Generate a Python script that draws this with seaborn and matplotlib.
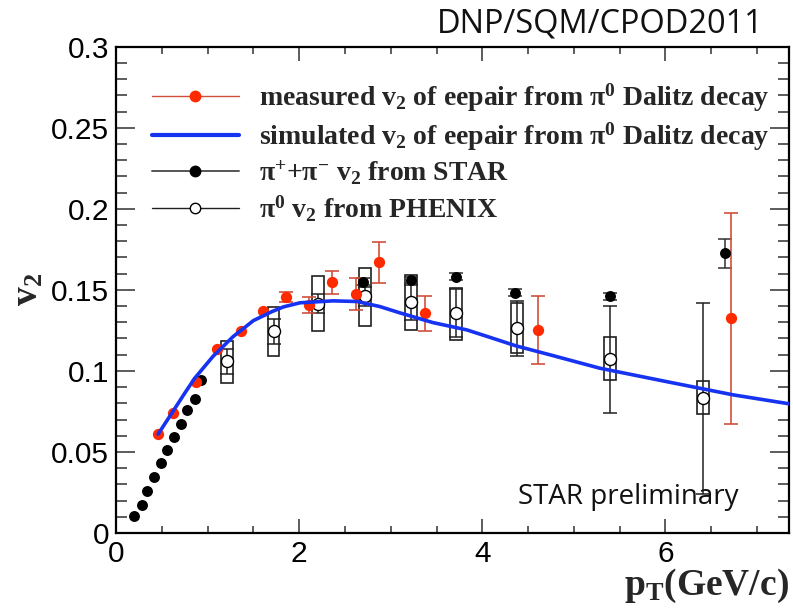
import matplotlib
matplotlib.use("Agg")
import matplotlib.pyplot as plt
from matplotlib.lines import Line2D
from matplotlib.patches import Rectangle
from matplotlib.ticker import MultipleLocator, FormatStrFormatter
import numpy as np
import pandas as pd
import seaborn as sns

# measured v2 of e+e- pairs from pi0 Dalitz decay
meas_pt = [0.46, 0.62, 0.87, 1.10, 1.36, 1.61, 1.86, 2.11, 2.36, 2.62, 2.87, 3.37, 4.61, 6.72]
meas_v2 = [0.0609, 0.0739, 0.0930, 0.1136, 0.1247, 0.1372, 0.1455, 0.1407, 0.1547, 0.1475,
           0.1670, 0.1356, 0.1253, 0.1325]
meas_err = [0.0, 0.0, 0.0, 0.0, 0.0, 0.0, 0.003, 0.005, 0.007, 0.0098,
            0.0127, 0.0107, 0.021, 0.065]

# simulated v2 of e+e- pairs from pi0 Dalitz decay
sim_pt = [0.46, 0.61, 0.75, 0.86, 1.06, 1.28, 1.50, 1.70, 1.83, 2.01, 2.37, 2.63, 2.88, 3.10,
          3.46, 3.83, 4.05, 4.37, 4.74, 5.28, 6.01, 6.74, 7.35]
sim_v2 = [0.0610, 0.0740, 0.0862, 0.0955, 0.1090, 0.1212, 0.1310, 0.1365, 0.1395, 0.1420,
          0.1432, 0.1428, 0.1397, 0.1358, 0.1298, 0.1253, 0.1213, 0.1154, 0.1099, 0.1017,
          0.0934, 0.0852, 0.0797]

# charged pion v2 from STAR
star_pt = [0.20, 0.28, 0.34, 0.41, 0.49, 0.56, 0.63, 0.71, 0.78, 0.86, 0.93,
           2.70, 3.22, 3.71, 4.36, 5.39, 6.65]
star_v2 = [0.0107, 0.0173, 0.0259, 0.0348, 0.0430, 0.0512, 0.0595, 0.0673, 0.0757, 0.0827,
           0.0942, 0.1551, 0.1562, 0.1582, 0.1483, 0.1459, 0.1726]
star_err = [0.0] * 11 + [0.002, 0.002, 0.002, 0.002, 0.002, 0.009]

# neutral pion v2 from PHENIX (stat. errors and systematic bands)
phenix_pt = [1.21, 1.72, 2.21, 2.72, 3.22, 3.71, 4.38, 5.39, 6.41]
phenix_v2 = [0.1058, 0.1243, 0.1414, 0.1459, 0.1422, 0.1356, 0.1264, 0.1072, 0.0831]
phenix_err = [0.008, 0.008, 0.006, 0.006, 0.011, 0.015, 0.017, 0.033, 0.059]
phenix_sys_lo = [0.0924, 0.1093, 0.1243, 0.1278, 0.1253, 0.1191, 0.1113, 0.0944, 0.0733]
phenix_sys_hi = [0.1187, 0.1397, 0.1586, 0.1634, 0.1593, 0.1510, 0.1418, 0.1206, 0.0936]

RED = "#ff2a00"
RED_BAR = "#d0503c"
BLUE = "#1733f2"

sns.set_theme(style="ticks")
plt.rcParams["font.family"] = ["Liberation Sans", "DejaVu Sans"]
plt.rcParams["mathtext.fontset"] = "custom"
plt.rcParams["mathtext.rm"] = "Liberation Serif:bold"
plt.rcParams["mathtext.it"] = "Liberation Serif:bold"
plt.rcParams["mathtext.bf"] = "Liberation Serif:bold"

fig = plt.figure(figsize=(7.93, 6.11), dpi=100)
ax = fig.add_axes([0.1463, 0.1277, 0.8487, 0.7959])

# PHENIX systematic boxes
box_hw = 0.065
for x, lo, hi in zip(phenix_pt, phenix_sys_lo, phenix_sys_hi):
    ax.add_patch(Rectangle((x - box_hw, lo), 2 * box_hw, hi - lo, fill=False,
                           edgecolor="#202020", linewidth=1.2, zorder=2))


def draw_errors(xs, ys, errs, color, lw):
    """Vertical error bars with caps, skipping points whose error is negligible."""
    xs, ys, errs = map(np.asarray, (xs, ys, errs))
    keep = errs > 0
    ax.errorbar(xs[keep], ys[keep], yerr=errs[keep], fmt="none", ecolor=color,
                elinewidth=lw, capsize=5, capthick=lw, zorder=3)


draw_errors(phenix_pt, phenix_v2, phenix_err, "#202020", 1.1)
draw_errors(star_pt, star_v2, star_err, "#303030", 1.1)
draw_errors(meas_pt, meas_v2, meas_err, RED_BAR, 1.2)

df_phenix = pd.DataFrame({"pt": phenix_pt, "v2": phenix_v2})
df_star = pd.DataFrame({"pt": star_pt, "v2": star_v2})
df_meas = pd.DataFrame({"pt": meas_pt, "v2": meas_v2})
df_sim = pd.DataFrame({"pt": sim_pt, "v2": sim_v2})

sns.scatterplot(data=df_phenix, x="pt", y="v2", ax=ax, marker="o", s=75,
                facecolor="white", edgecolor="black", linewidth=1.0, zorder=4)
sns.scatterplot(data=df_star, x="pt", y="v2", ax=ax, marker="o", s=62,
                color="black", edgecolor="black", linewidth=0, zorder=4)
sns.scatterplot(data=df_meas, x="pt", y="v2", ax=ax, marker="o", s=66,
                color=RED, edgecolor=RED, linewidth=0, zorder=5)
sns.lineplot(data=df_sim, x="pt", y="v2", ax=ax, sort=False, color=BLUE,
             linewidth=2.6, zorder=6)

ax.set_xlim(0, 7.35)
ax.set_ylim(0, 0.3)

ax.xaxis.set_major_locator(MultipleLocator(2))
ax.xaxis.set_minor_locator(MultipleLocator(0.5))
ax.yaxis.set_major_locator(MultipleLocator(0.05))
ax.yaxis.set_minor_locator(MultipleLocator(0.01))
ax.xaxis.set_major_formatter(FormatStrFormatter("%g"))
ax.yaxis.set_major_formatter(FormatStrFormatter("%g"))

ax.tick_params(axis="both", which="both", direction="in", top=True, right=True,
               colors="#303030", labelcolor="black", width=1.1, labelsize=21.5)
ax.tick_params(axis="x", which="major", length=10, pad=5)
ax.tick_params(axis="x", which="minor", length=5)
ax.tick_params(axis="y", which="major", length=14, pad=5)
ax.tick_params(axis="y", which="minor", length=8)
for sp in ax.spines.values():
    sp.set_linewidth(1.6)
    sp.set_color("black")

ax.set_xlabel(r"$\mathbf{p_T}$(GeV/c)", fontsize=27, fontfamily="Liberation Serif",
              fontweight="bold", ha="right")
ax.xaxis.set_label_coords(1.0, -0.07)
ax.set_ylabel(r"$\mathbf{v_2}$", fontsize=27)
ax.yaxis.set_label_coords(-0.105, 0.5)

handles = [
    Line2D([], [], color=RED_BAR, lw=1.0, marker="o", markersize=7.5,
           markerfacecolor=RED, markeredgecolor=RED),
    Line2D([], [], color=BLUE, lw=3.0),
    Line2D([], [], color="#555555", lw=1.4, marker="o", markersize=7.5,
           markerfacecolor="black", markeredgecolor="black"),
    Line2D([], [], color="#202020", lw=1.0, marker="o", markersize=7.5,
           markerfacecolor="white", markeredgecolor="black"),
]
labels = [
    r"measured $\mathbf{v_2}$ of eepair from π$^{\mathbf{0}}$ Dalitz decay",
    r"simulated $\mathbf{v_2}$ of eepair from π$^{\mathbf{0}}$ Dalitz decay",
    r"π$^{\mathbf{+}}$+π$^{\mathbf{-}}$ $\mathbf{v_2}$ from STAR",
    r"π$^{\mathbf{0}}$ $\mathbf{v_2}$ from PHENIX",
]
leg = ax.legend(handles, labels, loc="upper left", bbox_to_anchor=(0.053, 0.928),
                frameon=False, handlelength=3.15, handletextpad=0.7, labelspacing=0.22,
                borderpad=0, borderaxespad=0,
                prop={"family": "Liberation Serif", "weight": "bold", "size": 20})

ax.text(0.597, 0.06, "STAR preliminary", transform=ax.transAxes, fontsize=20,
        fontfamily="Open Sans", color="#111111")
fig.text(0.551, 0.946, "DNP/SQM/CPOD2011", fontsize=23.4, fontfamily="Open Sans",
         color="#111111")

fig.savefig("out.png", dpi=100)
